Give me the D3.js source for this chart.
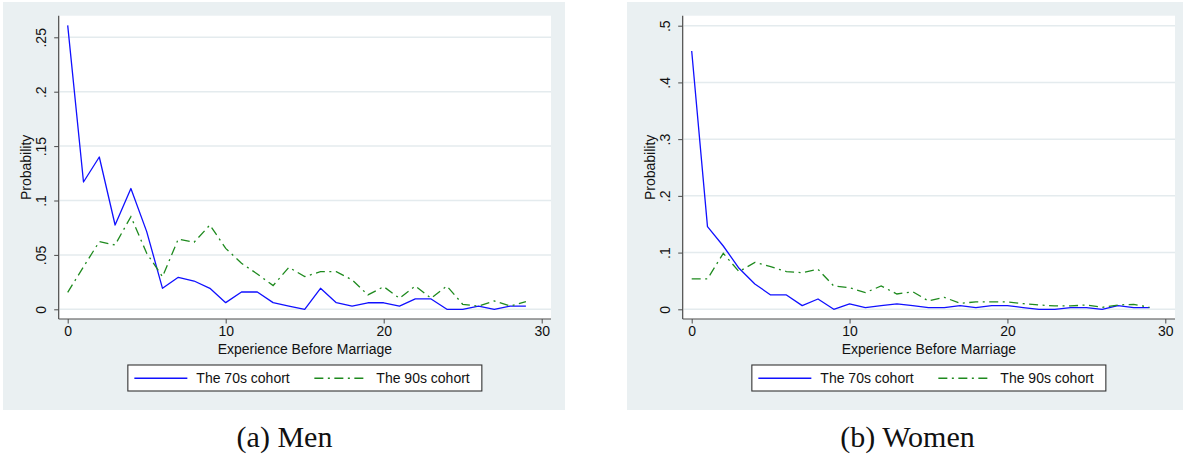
<!DOCTYPE html>
<html>
<head>
<meta charset="utf-8">
<script src="https://cdn.jsdelivr.net/npm/d3@7"></script>
<style>
  html, body { margin: 0; padding: 0; background: #ffffff; }
  svg { display: block; }
</style>
</head>
<body>
<svg id="chart" width="1183" height="461"></svg>
<script>
// Years of work experience before marriage (x) and probability for each cohort
const experience = d3.range(0, 30);

const men70s = [0.261, 0.117, 0.140, 0.0775, 0.111, 0.0714, 0.0193, 0.0294, 0.026, 0.0193,
                0.0061, 0.0159, 0.0159, 0.0061, 0.003, 0, 0.0193, 0.0061, 0.003, 0.006,
                0.006, 0.003, 0.0095, 0.0095, 0, 0, 0.003, 0, 0.003, 0.003];
const men90s = [0.0156, 0.039, 0.0622, 0.0591, 0.0852, 0.0515, 0.030, 0.0646, 0.0616, 0.0775,
                0.056, 0.0423, 0.0325, 0.0218, 0.0386, 0.030, 0.0346, 0.0346, 0.027, 0.0132,
                0.0208, 0.0101, 0.0214, 0.0101, 0.0214, 0.0046, 0.003, 0.0077, 0.003, 0.007];
const women70s = [0.4553, 0.1457, 0.1116, 0.0723, 0.0447, 0.0253, 0.0253, 0.0065, 0.0182, 0,
                  0.0094, 0.003, 0.0065, 0.0094, 0.0065, 0.003, 0.003, 0.0065, 0.003, 0.0065,
                  0.0065, 0.003, 0, 0, 0.003, 0.003, 0, 0.0065, 0.003, 0.003];
const women90s = [0.0535, 0.0535, 0.0987, 0.0664, 0.0828, 0.0752, 0.0664, 0.0646, 0.0705, 0.0411,
                  0.0382, 0.0294, 0.0411, 0.027, 0.031, 0.0147, 0.021, 0.0106, 0.013, 0.013,
                  0.013, 0.010, 0.0076, 0.0059, 0.0059, 0.0076, 0.0035, 0.0076, 0.0088, 0.0035];

const xTicks = [0, 10, 20, 30];
const menYTicks = [0, 0.05, 0.1, 0.15, 0.2, 0.25];
const menYLabels = ["0", ".05", ".1", ".15", ".2", ".25"];
const womenYTicks = [0, 0.1, 0.2, 0.3, 0.4, 0.5];
const womenYLabels = ["0", ".1", ".2", ".3", ".4", ".5"];

const seriesNames = ["The 70s cohort", "The 90s cohort"];
const captions = ["(a) Men", "(b) Women"];

const svg = d3.select("#chart");
const sansFont = "'Liberation Sans', Arial, Helvetica, sans-serif";
const serifFont = "'Liberation Serif', 'Times New Roman', serif";
const blue = "#1010ff";
const green = "#1e8a1e";
const dashDot = "9,4.5,2,4.5";

function drawPanel(cfg) {
  const g = svg.append("g");

  // outer graph region
  g.append("rect")
    .attr("x", cfg.bg[0]).attr("y", cfg.bg[1])
    .attr("width", cfg.bg[2]).attr("height", cfg.bg[3])
    .attr("fill", "#eaf0f2");

  // plot region
  g.append("rect")
    .attr("x", cfg.plot.left).attr("y", cfg.plot.top)
    .attr("width", cfg.plot.right - cfg.plot.left)
    .attr("height", cfg.plot.bottom - cfg.plot.top)
    .attr("fill", "#ffffff");

  const x = d3.scaleLinear().domain([0, 30]).range(cfg.xRange);
  const y = d3.scaleLinear().domain(cfg.yDomain).range(cfg.yRange);

  // horizontal grid lines
  g.append("g").selectAll("line").data(cfg.yTicks).join("line")
    .attr("x1", cfg.plot.left + 1).attr("x2", cfg.plot.right)
    .attr("y1", d => y(d)).attr("y2", d => y(d))
    .attr("stroke", "#e4ebee").attr("stroke-width", 1.5);

  // y axis
  const yAxis = d3.axisLeft(y).tickValues(cfg.yTicks)
    .tickFormat((d, i) => cfg.yLabels[i]).tickSize(4.5).tickPadding(0);
  const ya = g.append("g")
    .attr("transform", `translate(${cfg.plot.left},0)`)
    .call(yAxis);
  ya.select(".domain")
    .attr("d", `M0,${cfg.plot.top}V${cfg.plot.bottom}`)
    .attr("stroke", "#4a4a4a").attr("stroke-width", 1.2);
  ya.selectAll(".tick line").attr("stroke", "#4a4a4a").attr("stroke-width", 1);
  ya.selectAll(".tick text")
    .attr("x", null).attr("dy", null)
    .attr("transform", "translate(-13,0) rotate(-90)")
    .attr("text-anchor", "middle")
    .attr("font-family", sansFont).attr("font-size", 14).attr("fill", "#111");

  // x axis
  const xAxis = d3.axisBottom(x).tickValues(xTicks).tickSize(4.5).tickPadding(3);
  const xa = g.append("g")
    .attr("transform", `translate(0,${cfg.plot.bottom})`)
    .call(xAxis);
  xa.select(".domain")
    .attr("d", `M${cfg.plot.left},0H${cfg.plot.right}`)
    .attr("stroke", "#4a4a4a").attr("stroke-width", 1.2);
  xa.selectAll(".tick line").attr("stroke", "#4a4a4a").attr("stroke-width", 1);
  xa.selectAll(".tick text")
    .attr("font-family", sansFont).attr("font-size", 14).attr("fill", "#111");

  // axis titles
  const midY = (cfg.plot.top + cfg.plot.bottom) / 2;
  g.append("text")
    .attr("transform", `translate(${cfg.plot.left - 28},${midY}) rotate(-90)`)
    .attr("text-anchor", "middle")
    .attr("font-family", sansFont).attr("font-size", 14).attr("fill", "#111")
    .text("Probability");
  const midX = (cfg.plot.left + cfg.plot.right) / 2;
  g.append("text")
    .attr("x", midX).attr("y", 353.5)
    .attr("text-anchor", "middle")
    .attr("font-family", sansFont).attr("font-size", 14).attr("fill", "#111")
    .text("Experience Before Marriage");

  // series lines
  const line = d3.line().x((d, i) => x(experience[i])).y(d => y(d));
  g.append("path").datum(cfg.s70)
    .attr("d", line).attr("fill", "none")
    .attr("stroke", blue).attr("stroke-width", 1.3).attr("stroke-linejoin", "round");
  g.append("path").datum(cfg.s90)
    .attr("d", line).attr("fill", "none")
    .attr("stroke", green).attr("stroke-width", 1.3)
    .attr("stroke-dasharray", dashDot);

  // legend
  const lx = midX - 177, ly = 365, lw = 354, lh = 26;
  const lg = g.append("g");
  lg.append("rect")
    .attr("x", lx).attr("y", ly).attr("width", lw).attr("height", lh)
    .attr("fill", "#ffffff").attr("stroke", "#333").attr("stroke-width", 1.1);
  const items = [
    { name: seriesNames[0], color: blue, dash: null, x0: 6.5 },
    { name: seriesNames[1], color: green, dash: dashDot, x0: 186.5 }
  ];
  items.forEach(it => {
    lg.append("line")
      .attr("x1", lx + it.x0).attr("x2", lx + it.x0 + 53)
      .attr("y1", ly + 13.3).attr("y2", ly + 13.3)
      .attr("stroke", it.color).attr("stroke-width", 1.4)
      .attr("stroke-dasharray", it.dash);
    lg.append("text")
      .attr("x", lx + it.x0 + 62).attr("y", ly + 18.2)
      .attr("font-family", sansFont).attr("font-size", 14).attr("fill", "#111")
      .text(it.name);
  });

  // caption below the panel
  svg.append("text")
    .attr("x", cfg.captionX).attr("y", 447)
    .attr("text-anchor", "middle")
    .attr("font-family", serifFont).attr("font-size", 30).attr("fill", "#111")
    .text(cfg.caption);
}

drawPanel({
  bg: [3, 2, 562, 408],
  plot: { left: 58.7, right: 551, top: 15.7, bottom: 319 },
  xRange: [67.7, 541.7],
  yDomain: [0, 0.25], yRange: [309.3, 37.3],
  yTicks: menYTicks, yLabels: menYLabels,
  s70: men70s, s90: men90s,
  caption: captions[0], captionX: 284.5
});

drawPanel({
  bg: [627, 2, 556, 408],
  plot: { left: 682.7, right: 1175, top: 15.7, bottom: 319 },
  xRange: [691.7, 1165.3],
  yDomain: [0, 0.5], yRange: [309.3, 25.7],
  yTicks: womenYTicks, yLabels: womenYLabels,
  s70: women70s, s90: women90s,
  caption: captions[1], captionX: 907.5
});
</script>
</body>
</html>
